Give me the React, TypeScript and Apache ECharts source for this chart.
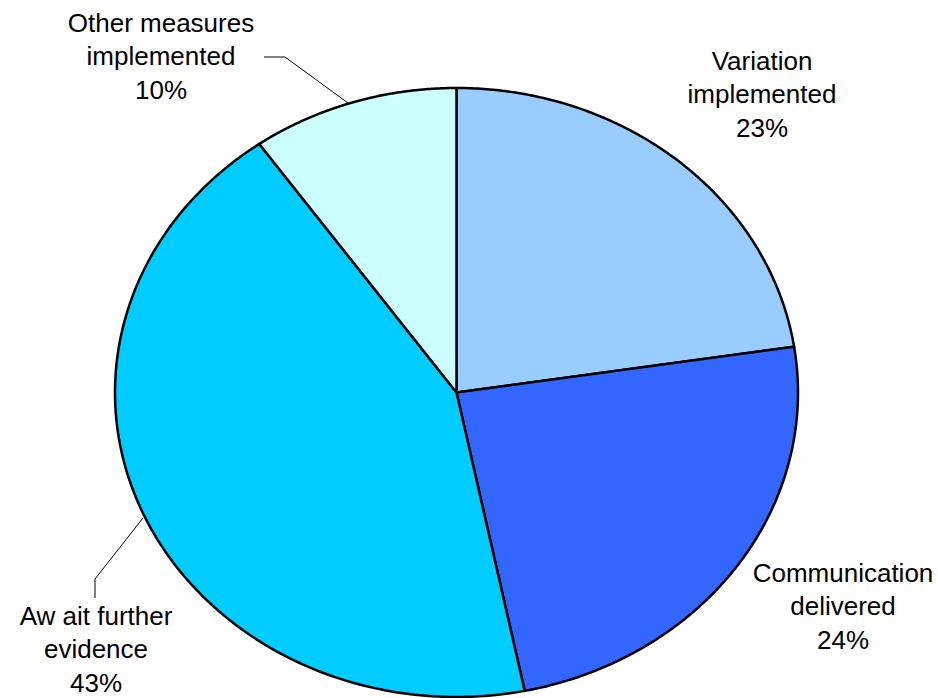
import React, { useEffect, useRef } from "react";
import * as echarts from "echarts";

const categories = [
  "Variation\nimplemented",
  "Communication\ndelivered",
  "Aw ait further\nevidence",
  "Other measures\nimplemented",
];
const values = [22.6, 24.2, 43.4, 9.8];
const colors = ["#99CCFF", "#3366FF", "#00CCFF", "#CCFFFF"];

// layout (pixels)
const CX = 456.5;
const CY = 392.5;
const RX = 341.5;
const RY = 304.5;
const LINE_GAP = 33.5;
const labelCenters = [
  [762, 94],
  [843, 606],
  [96, 649],
  [161, 56],
];
const leaderLines: number[][][] = [
  [],
  [],
  [
    [143, 518],
    [95, 579],
    [95, 598],
  ],
  [
    [264, 57],
    [285, 57],
    [348, 103],
  ],
];

export default function App() {
  const ref = useRef<HTMLDivElement>(null);
  useEffect(() => {
    if (!ref.current) return;
    const chart = echarts.init(ref.current, null, { renderer: "svg" });
    const total = values.reduce((a, b) => a + b, 0);
    chart.setOption({
      animation: false,
      backgroundColor: "#ffffff",
      series: [
        {
          type: "custom",
          coordinateSystem: "none",
          data: values.map((v, i) => ({ value: v, name: categories[i] })),
          renderItem: (params: any, api: any) => {
            const idx = params.dataIndex;
            const v = api.value(0);
            let before = 0;
            for (let i = 0; i < idx; i++) before += values[i];
            const a0 = (before / total) * Math.PI * 2;
            const a1 = ((before + v) / total) * Math.PI * 2;
            const pts: number[][] = [[CX, CY]];
            const N = 160;
            for (let k = 0; k <= N; k++) {
              const t = a0 + ((a1 - a0) * k) / N;
              pts.push([CX + RX * Math.sin(t), CY - RY * Math.cos(t)]);
            }
            const children: any[] = [
              {
                type: "polygon",
                shape: { points: pts },
                style: {
                  fill: colors[idx],
                  stroke: "#000000",
                  lineWidth: 2.5,
                  lineJoin: "round",
                },
              },
            ];
            const lines = (
              categories[idx] +
              "\n" +
              Math.round((v / total) * 100) +
              "%"
            ).split("\n");
            lines.forEach((ln, j) => {
              children.push({
                type: "text",
                style: {
                  text: ln,
                  x: labelCenters[idx][0],
                  y: labelCenters[idx][1] + (j - (lines.length - 1) / 2) * LINE_GAP,
                  align: "center",
                  verticalAlign: "middle",
                  fontSize: 26,
                  fontFamily: "'Liberation Sans', Arial, sans-serif",
                  lineHeight: 22,
                  fill: "#000000",
                },
              });
            });
            if (leaderLines[idx].length) {
              children.push({
                type: "polyline",
                shape: { points: leaderLines[idx] },
                style: { stroke: "#000000", lineWidth: 1, fill: null },
              });
            }
            return { type: "group", children };
          },
        },
      ],
    });
    return () => chart.dispose();
  }, []);
  return (
    <div
      ref={ref}
      style={{ position: "fixed", left: 0, top: 0, width: 938, height: 698 }}
    />
  );
}
